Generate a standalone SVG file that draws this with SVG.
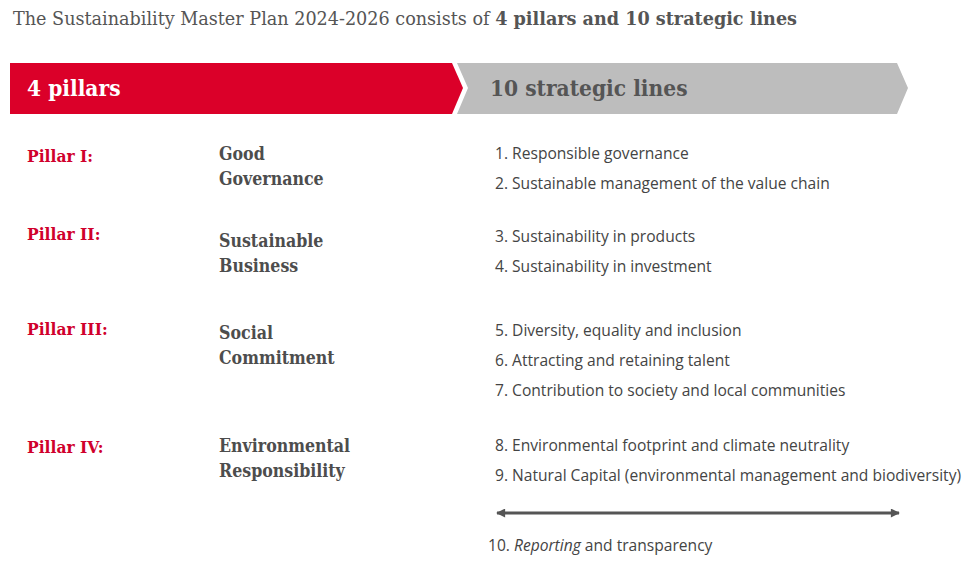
<svg xmlns="http://www.w3.org/2000/svg" width="968" height="561" viewBox="0 0 968 561">
<style>
.title{font-family:"DejaVu Serif",serif;font-stretch:condensed;font-size:18px;fill:#555}
.hd{font-family:"DejaVu Serif",serif;font-stretch:condensed;font-weight:bold;font-size:22.5px}
.pl{font-family:"DejaVu Serif",serif;font-stretch:condensed;font-weight:bold;font-size:17.3px;fill:#d0002c}
.pn{font-family:"DejaVu Serif",serif;font-stretch:condensed;font-weight:bold;font-size:17.6px;fill:#4d4d4d}
.ln{font-family:"Open Sans","Noto Sans",sans-serif;font-size:15.6px;fill:#444}
</style>
<defs>
<marker id="ah" viewBox="0 0 10 10" refX="9" refY="5" markerWidth="4" markerHeight="3" orient="auto-start-reverse" markerUnits="strokeWidth">
<path d="M0,0 L10,5 L0,10 z" fill="#555"/>
</marker>
</defs>
<rect width="968" height="561" fill="#fff"/>
<text class="title" x="13" y="25" textLength="784" lengthAdjust="spacingAndGlyphs">The Sustainability Master Plan 2024-2026 consists of <tspan font-weight="bold">4 pillars and 10 strategic lines</tspan></text>
<g id="band-pillars">
<polygon points="10,63 452,63 463,88 452,114 10,114" fill="#db0029"/>
<text class="hd" x="27" y="96" fill="#fff">4 pillars</text>
</g>
<g id="band-lines">
<polygon points="457,63 897,63 908,88 897,114 457,114 468,88" fill="#bdbdbd"/>
<text class="hd" x="490" y="96" fill="#555">10 strategic lines</text>
</g>
<g id="pillar1">
<text class="pl" x="27" y="162">Pillar I:</text>
<text class="pn" x="219" y="160">Good</text>
<text class="pn" x="219" y="185">Governance</text>
</g>
<g id="pillar2">
<text class="pl" x="27" y="240">Pillar II:</text>
<text class="pn" x="219" y="247">Sustainable</text>
<text class="pn" x="219" y="272">Business</text>
</g>
<g id="pillar3">
<text class="pl" x="27" y="335">Pillar III:</text>
<text class="pn" x="219" y="339">Social</text>
<text class="pn" x="219" y="364">Commitment</text>
</g>
<g id="pillar4">
<text class="pl" x="27" y="453">Pillar IV:</text>
<text class="pn" x="219" y="452">Environmental</text>
<text class="pn" x="219" y="477">Responsibility</text>
</g>
<g id="lines">
<text class="ln" x="495" y="159">1. Responsible governance</text>
<text class="ln" x="495" y="189">2. Sustainable management of the value chain</text>
<text class="ln" x="495" y="242">3. Sustainability in products</text>
<text class="ln" x="495" y="272">4. Sustainability in investment</text>
<text class="ln" x="495" y="336">5. Diversity, equality and inclusion</text>
<text class="ln" x="495" y="366">6. Attracting and retaining talent</text>
<text class="ln" x="495" y="396">7. Contribution to society and local communities</text>
<text class="ln" x="495" y="451">8. Environmental footprint and climate neutrality</text>
<text class="ln" x="495" y="481">9. Natural Capital (environmental management and biodiversity)</text>
<text class="ln" x="488" y="551">10. <tspan font-style="italic">Reporting</tspan> and transparency</text>
</g>
<g id="connectors">
<line x1="497" y1="513" x2="899" y2="513" stroke="#555" stroke-width="3" marker-start="url(#ah)" marker-end="url(#ah)"/>
</g>
</svg>
